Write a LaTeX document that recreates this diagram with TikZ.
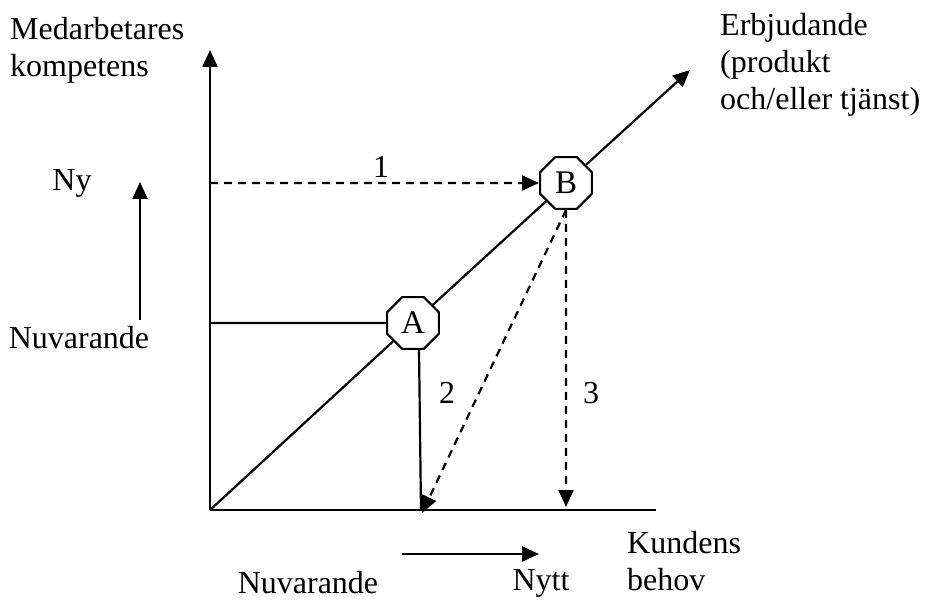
\documentclass[tikz,border=0pt]{standalone}
\usepackage{fontspec}
\setmainfont{Liberation Serif}
\usetikzlibrary{arrows.meta,shapes.geometric}
\begin{document}
\begin{tikzpicture}[x=1pt,y=-1pt,
  ln/.style={line width=2.2pt},
  dsh/.style={dash pattern=on 8pt off 6pt},
  arr/.style={-{Triangle[length=17pt,width=15pt]}},
  oct/.style={draw,line width=2.2pt,fill=white,regular polygon,regular polygon sides=8,minimum size=56pt,inner sep=0pt,font=\fontsize{33}{36}\selectfont},
  txt/.style={font=\fontsize{32}{37}\selectfont,inner sep=0pt},
  txtl/.style={txt,align=left,anchor=north west}]
\useasboundingbox (0,0) rectangle (926,601);
\coordinate (O) at (210,510);
\coordinate (Ytop) at (210,50);
\coordinate (Xend) at (656,510);
\coordinate (Dend) at (690,70);
\coordinate (P) at (421,510);
\coordinate (Q) at (566,507);
\coordinate (L1) at (210,183);
\coordinate (L2) at (210,323);
\draw[ln,arr] (O) -- (Ytop);
\draw[ln] (O) -- (Xend);
\node[oct] (A) at (413,323) {A};
\node[oct] (B) at (566,183) {B};
\draw[ln] (O) -- (A);
\draw[ln] (A) -- (B);
\draw[ln,arr] (B) -- (Dend);
\draw[ln] (L2) -- (A.west);
\draw[ln,dsh,arr] (L1) -- (B.west);
\draw[ln] ([xshift=6pt]A.south) -- (P);
\draw[ln,dsh,arr] (B.south) -- ([xshift=1pt,yshift=-3pt]P);
\draw[ln,dsh,arr] (B.south) -- (Q);
% small arrows
\coordinate (U1) at (140,320);
\coordinate (U2) at (140,182);
\draw[ln,arr] (U1) -- (U2);
\coordinate (R1) at (402,554);
\coordinate (R2) at (539,554);
\draw[ln,arr] (R1) -- (R2);
% labels
\node[txtl] (t1) at (10,17) {Medarbetares\\kompetens};
\node[txtl] (t2) at (720,13) {Erbjudande\\(produkt\\och/eller tjänst)};
\node[txt] (ny) at (72,183) {Ny};
\node[txt] (nuv) at (79,338) {Nuvarande};
\node[txt] (n1) at (381,167) {1};
\node[txt] (n2) at (447,393) {2};
\node[txt] (n3) at (591,393) {3};
\node[txtl] (kb) at (627,531) {Kundens\\behov};
\node[txt] (nuv2) at (308,583) {Nuvarande};
\node[txt] (nytt) at (541,583) {Nytt};
\end{tikzpicture}
\end{document}
